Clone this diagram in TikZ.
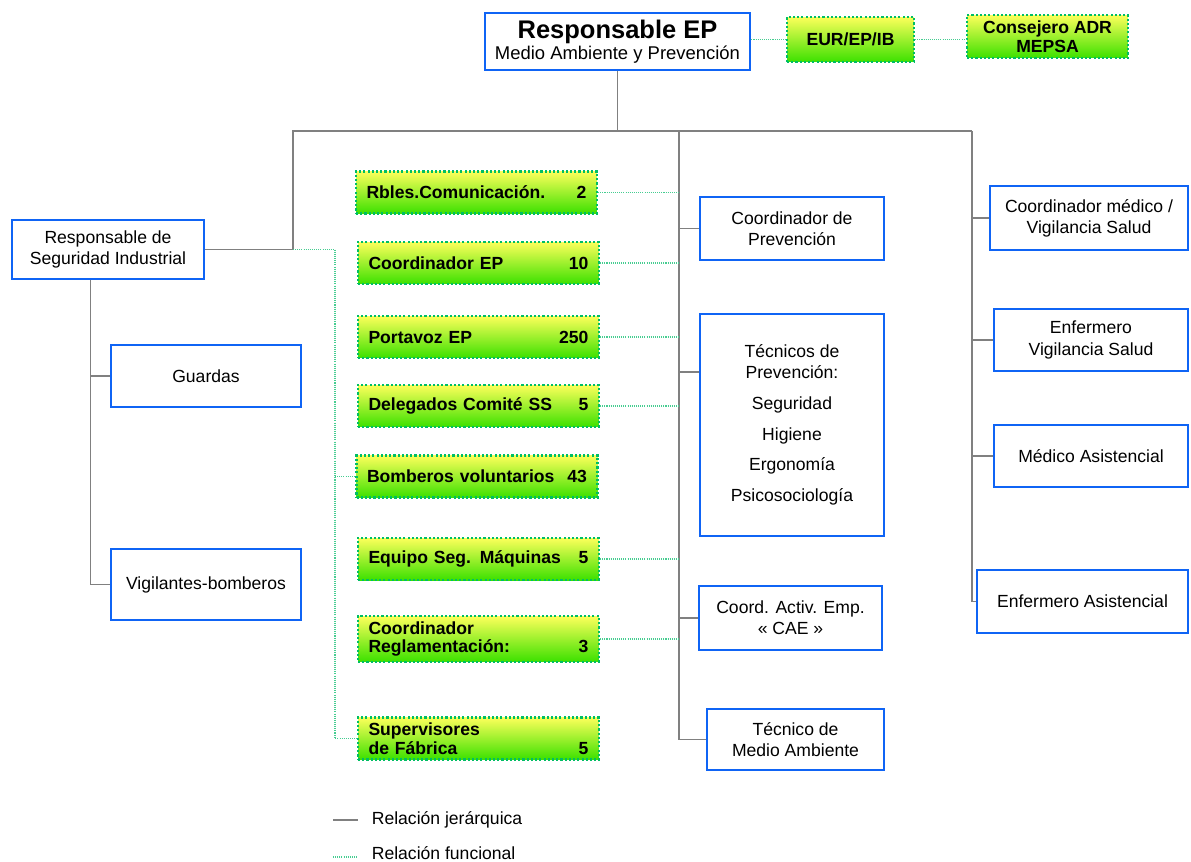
\documentclass[tikz,border=0pt]{standalone}
\usepackage{fontspec}
\setmainfont{Liberation Sans}
\usetikzlibrary{positioning}
\definecolor{azul}{RGB}{15,100,245}
\definecolor{gris}{RGB}{128,128,128}
\definecolor{verdel}{RGB}{70,205,145}
\definecolor{verdeb}{RGB}{0,190,100}
\definecolor{amar}{RGB}{252,255,90}
\definecolor{verdef}{RGB}{60,225,0}
\tikzset{
  box/.style={rectangle,draw=azul,line width=1.6pt,fill=white,align=center,
    font=\fontsize{10}{12}\selectfont,inner sep=3pt},
  vbox/.style={rectangle,draw=verdeb,line width=1.3pt,dash pattern=on 1.2pt off 1.2pt,
    top color=amar,bottom color=verdef,align=center,
    font=\bfseries\fontsize{10}{10.5}\selectfont,inner sep=3pt},
  vitem/.style={vbox,text width=4.4cm,align=left,inner xsep=0.21cm,minimum height=0.84cm},
  jer/.style={draw=gris,line width=0.8pt},
  fun/.style={draw=verdel,dash pattern=on 0.6pt off 0.6pt,line width=0.8pt},
  lbl/.style={font=\fontsize{10}{12}\selectfont,inner sep=2pt}
}
\begin{document}
\begin{tikzpicture}[x=0.02cm,y=-0.02cm]
\useasboundingbox (0,0) rectangle (1191,862);
% cabecera
\node[box,minimum width=5.3cm,minimum height=1.14cm] (ep) at (617.5,41.5)
  {{\bfseries\fontsize{14.5}{16}\selectfont Responsable EP}\\{\fontsize{10.5}{12}\selectfont Medio Ambiente y Prevención}};
\node[vbox,minimum width=2.54cm,minimum height=0.9cm] (eur) at (850.5,39.5) {EUR/EP/IB};
\node[vbox,minimum width=3.22cm,minimum height=0.86cm] (cons) at (1047.5,36.5) {Consejero ADR\\MEPSA};
% izquierda
\node[box,minimum width=3.84cm,minimum height=1.18cm] (rsi) at (108,249.5) {Responsable de\\Seguridad Industrial};
\node[box,minimum width=3.8cm,minimum height=1.24cm] (gua) at (206,376) {Guardas};
\node[box,minimum width=3.8cm,minimum height=1.42cm] (vig) at (206,584.5) {Vigilantes-bomberos};
% funcionales
\node[vitem] (rbl) at (476.5,192.5) {Rbles.Comunicación.\hfill 2};
\node[vitem] (cep) at (478.5,263) {Coordinador EP\hfill 10};
\node[vitem] (por) at (478.5,337) {Portavoz EP\hfill 250};
\node[vitem] (del) at (478.5,406) {Delegados Comité SS\hfill 5};
\node[vitem] (bom) at (477,476.5) {Bomberos voluntarios\hfill 43};
\node[vitem] (equ) at (478.5,559) {Equipo Seg. Máquinas\hfill 5};
\node[vitem] (cre) at (478.5,639) {Coordinador\\Reglamentación:\hfill 3\hspace*{0.2cm}};
\node[vitem] (sup) at (478.5,738.5) {Supervisores\\de Fábrica\hfill 5\hspace*{0.2cm}};
% prevencion
\node[box,minimum width=3.68cm,minimum height=1.26cm] (cpr) at (792,228.5) {Coordinador de\\Prevención};
\node[box,minimum width=3.68cm,minimum height=4.44cm] (tpr) at (792,425)
  {Técnicos de\\Prevención:\\[5.5pt]Seguridad\\[5.5pt]Higiene\\[5.5pt]Ergonomía\\[5.5pt]Psicosociología};
\node[box,minimum width=3.66cm,minimum height=1.28cm] (cae) at (790.5,618) {Coord. Activ. Emp.\\« CAE »};
\node[box,minimum width=3.54cm,minimum height=1.22cm] (tma) at (795.5,739.5) {Técnico de\\Medio Ambiente};
% salud
\node[box,minimum width=3.96cm,minimum height=1.28cm] (cme) at (1089,218) {Coordinador médico /\\Vigilancia Salud};
\node[box,minimum width=3.88cm,minimum height=1.24cm] (evs) at (1091,340) {Enfermero\\Vigilancia Salud};
\node[box,minimum width=3.88cm,minimum height=1.24cm] (mas) at (1091,456) {Médico Asistencial};
\node[box,minimum width=4.22cm,minimum height=1.26cm] (eas) at (1082.5,601.5) {Enfermero Asistencial};

% relacion jerarquica
\coordinate (jL) at (293,131);
\coordinate (jM) at (679,131);
\coordinate (jR) at (972,131);
\coordinate (tL) at ([xshift=1.6cm]rsi.south west);
\draw[jer] (ep.south) -- (ep.south |- jM);
\draw[jer] (rsi.east) -| (jL) -- (jR);
\draw[jer] (jM) |- (tma.west);
\draw[jer] (jR) |- (eas.west);
\draw[jer] (tL) |- (vig.west);
\draw[jer] (tL |- gua.west) -- (gua.west);
\draw[jer] (jM |- cpr.west) -- (cpr.west);
\draw[jer] (jM |- 0,372) -- (tpr.west |- 0,372);
\draw[jer] (jM |- cae.west) -- (cae.west);
\foreach \n in {cme,evs,mas}
  \draw[jer] (jR |- \n.west) -- (\n.west);

% relacion funcional
\coordinate (fL) at (335,249.5);
\draw[fun] (eur.west -| ep.east) -- (eur.west);
\draw[fun] (eur.east) -- (eur.east -| cons.west);
\draw[fun] (rsi.east -| jL) -- (fL) |- (sup.west);
\draw[fun] (fL |- bom.west) -- (bom.west);
\foreach \n in {rbl,cep,por,del,equ,cre}
  \draw[fun] (\n.east) -- (\n.east -| jM);

% leyenda
\node[lbl,anchor=west] (lj) at (368,820) {Relación jerárquica};
\node[lbl,anchor=west] (lf) at (368,853) {Relación funcional};
\coordinate (lja) at (333,820);
\coordinate (lfa) at (333,857);
\draw[jer] (lja) -- ([xshift=-0.2cm]lj.west);
\draw[fun] (lfa) -- ([xshift=-0.2cm]lf.west |- lfa);
\end{tikzpicture}
\end{document}
